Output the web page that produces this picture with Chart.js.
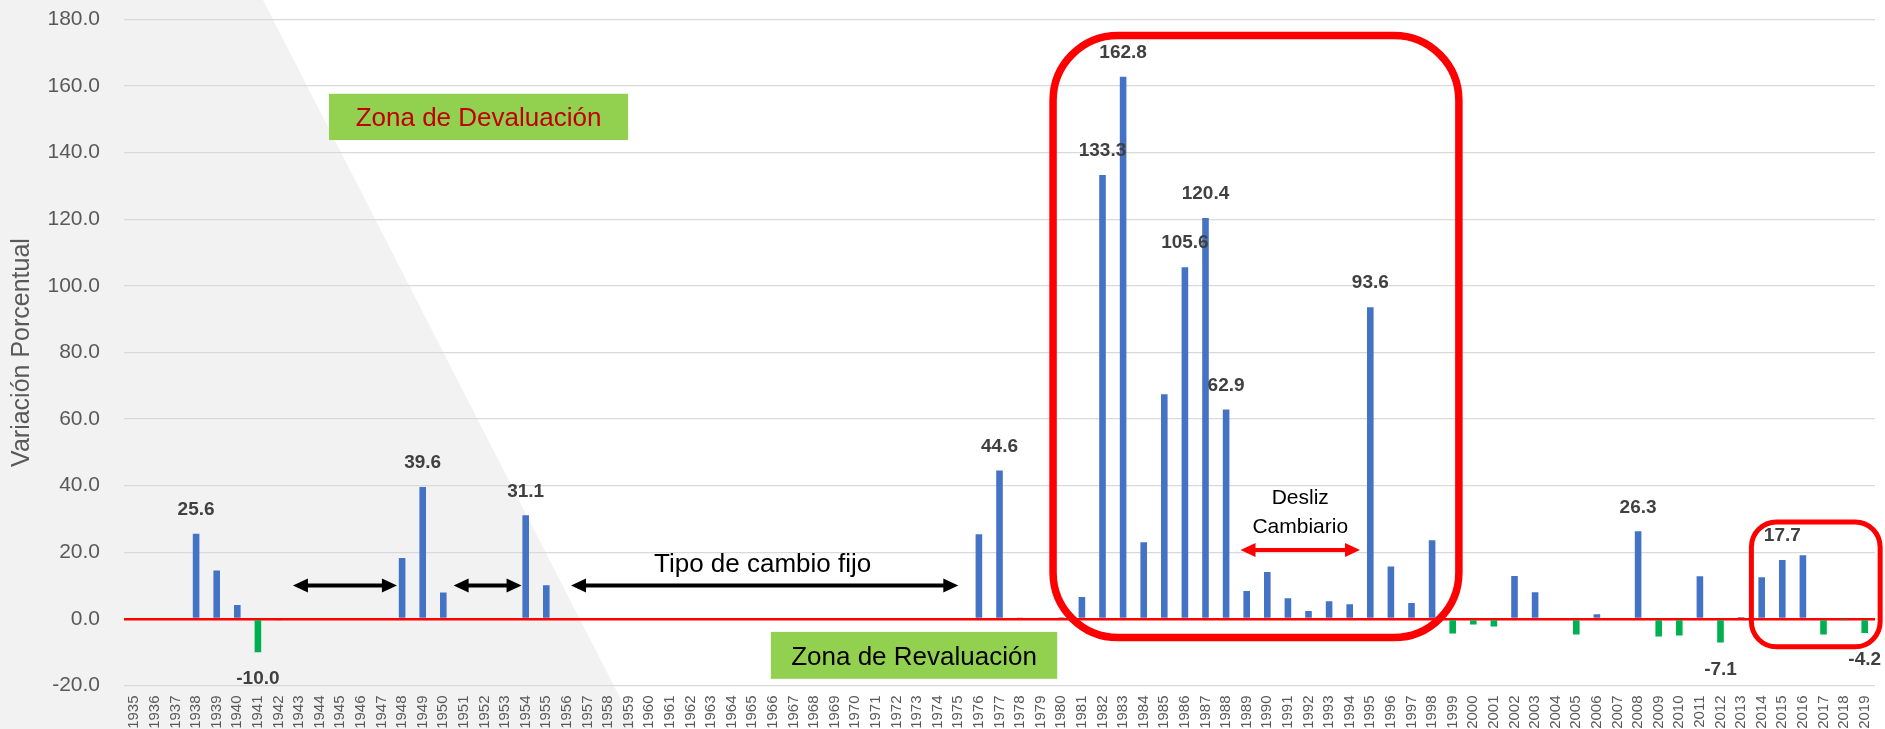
<!DOCTYPE html>
<html>
<head>
<meta charset="utf-8">
<script src="https://cdn.jsdelivr.net/npm/chart.js@4.4.0/dist/chart.umd.min.js"></script>
<style>
html, body { margin: 0; padding: 0; background: #fff; overflow: hidden; }
#wrap { width: 1885px; height: 729px; position: relative; }
</style>
</head>
<body>
<div id="wrap"><canvas id="myChart"></canvas></div>
<script>
// anios (categorias)
const years = [
    '1935','1936','1937','1938','1939','1940','1941','1942','1943','1944',
    '1945','1946','1947','1948','1949','1950','1951','1952','1953','1954',
    '1955','1956','1957','1958','1959','1960','1961','1962','1963','1964',
    '1965','1966','1967','1968','1969','1970','1971','1972','1973','1974',
    '1975','1976','1977','1978','1979','1980','1981','1982','1983','1984',
    '1985','1986','1987','1988','1989','1990','1991','1992','1993','1994',
    '1995','1996','1997','1998','1999','2000','2001','2002','2003','2004',
    '2005','2006','2007','2008','2009','2010','2011','2012','2013','2014',
    '2015','2016','2017','2018','2019'
];

// variacion porcentual por anio
const changes = [
    0, 0, 0, 25.6, 14.5, 4.2, -10.0, -0.3, 0, 0,
    0, 0, 0, 18.3, 39.6, 7.9, 0, 0, 0, 31.1,
    10.1, 0, 0, 0, 0, 0, 0, 0, 0, 0,
    0, 0, 0, 0, 0, 0, 0, 0, 0, 0,
    0, 25.4, 44.6, 0.3, 0, 0.5, 6.6, 133.3, 162.8, 23.0,
    67.5, 105.6, 120.4, 62.9, 8.4, 14.1, 6.2, 2.4, 5.3, 4.4,
    93.6, 15.7, 4.8, 23.6, -4.4, -1.7, -2.3, 12.9, 8.0, 0,
    -4.7, 1.4, 0, 26.3, -5.3, -5.0, 12.8, -7.1, 0.6, 12.5,
    17.7, 19.1, -4.7, -0.2, -4.2
];

// anios con etiqueta de valor
const labeledYears = ['1938','1941','1949','1954','1977','1982','1983','1986','1987','1988','1995','2008','2012','2015','2019'];

const yMin = -20, yMax = 180, yStep = 20;

const BLUE = '#4472C4', GREEN = '#00B050', RED = '#FF0000';
const FONT = '"Liberation Sans", Arial, sans-serif';

Chart.defaults.font.family = FONT;

const background = {
    id: 'background',
    beforeDraw(chart) {
        const { ctx, width, height } = chart;
        ctx.save();
        ctx.fillStyle = '#ffffff';
        ctx.fillRect(0, 0, width, height);
        ctx.fillStyle = '#F2F2F2';
        ctx.beginPath();
        ctx.moveTo(0, 0);
        ctx.lineTo(263, 0);
        ctx.lineTo(636, height);
        ctx.lineTo(0, height);
        ctx.closePath();
        ctx.fill();
        ctx.restore();
    }
};

const valueLabels = {
    id: 'valueLabels',
    afterDatasetsDraw(chart) {
        const { ctx } = chart;
        const meta = chart.getDatasetMeta(0);
        ctx.save();
        ctx.font = 'bold 19px ' + FONT;
        ctx.fillStyle = '#404040';
        ctx.textAlign = 'center';
        ctx.textBaseline = 'middle';
        meta.data.forEach((bar, i) => {
            if (!labeledYears.includes(years[i])) return;
            const v = changes[i];
            const y = v >= 0 ? bar.y - 24 : bar.y + 27;
            ctx.fillText(v.toFixed(1), bar.x, y);
        });
        ctx.restore();
    }
};

function arrow(ctx, x1, x2, yy, color){
    const head = 15, half = 7;
    ctx.strokeStyle = color;
    ctx.fillStyle = color;
    ctx.lineWidth = 4;
    ctx.beginPath();
    ctx.moveTo(x1 + head - 2, yy);
    ctx.lineTo(x2 - head + 2, yy);
    ctx.stroke();
    ctx.beginPath();
    ctx.moveTo(x1, yy);
    ctx.lineTo(x1 + head, yy - half);
    ctx.lineTo(x1 + head, yy + half);
    ctx.closePath();
    ctx.fill();
    ctx.beginPath();
    ctx.moveTo(x2, yy);
    ctx.lineTo(x2 - head, yy - half);
    ctx.lineTo(x2 - head, yy + half);
    ctx.closePath();
    ctx.fill();
}

function zoneBox(ctx, x1, x2, y1, y2, text, color){
    ctx.fillStyle = '#92D050';
    ctx.fillRect(x1, y1, x2 - x1, y2 - y1);
    ctx.fillStyle = color;
    ctx.font = '26px ' + FONT;
    ctx.textAlign = 'center';
    ctx.textBaseline = 'middle';
    ctx.fillText(text, (x1 + x2) / 2, (y1 + y2) / 2 + 2);
}

const notes = {
    id: 'notes',
    afterDatasetsDraw(chart) {
        const { ctx, scales: { x, y } } = chart;
        const px = (i) => x.getPixelForValue(i);
        const py = (v) => y.getPixelForValue(v);
        ctx.save();

        // periodos de tipo de cambio fijo
        arrow(ctx, px(7.7), px(12.75), py(10), '#000');
        arrow(ctx, px(15.5), px(18.8), py(10), '#000');
        arrow(ctx, px(21.2), px(40.0), py(10), '#000');
        ctx.fillStyle = '#000';
        ctx.font = '26px ' + FONT;
        ctx.textAlign = 'center';
        ctx.textBaseline = 'middle';
        ctx.fillText('Tipo de cambio fijo', px(30.5), py(16.2));

        // desliz cambiario
        arrow(ctx, px(53.7), px(59.5), py(20.7), RED);
        ctx.fillStyle = '#000';
        ctx.font = '21px ' + FONT;
        ctx.fillText('Desliz', px(56.6), py(36.3));
        ctx.fillText('Cambiario', px(56.6), py(27.6));

        // zonas
        zoneBox(ctx, px(9.45), px(23.97), py(157.7), py(143.8), 'Zona de Devaluación', '#C00000');
        zoneBox(ctx, px(30.9), px(44.8), py(-3.9), py(-18.0), 'Zona de Revaluación', '#000');

        // recuadros rojos
        ctx.strokeStyle = RED;
        ctx.lineWidth = 7.5;
        ctx.beginPath();
        ctx.roundRect(px(44.6), py(175.2), px(64.3) - px(44.6), py(-5.6) - py(175.2), 65);
        ctx.stroke();
        ctx.lineWidth = 5;
        ctx.beginPath();
        ctx.roundRect(px(78.5), py(29.1), px(84.75) - px(78.5), py(-8.4) - py(29.1), 25);
        ctx.stroke();

        ctx.restore();
    }
};

const data = {
    labels: years,
    datasets: [{
        data: changes,
        backgroundColor: changes.map(v => v >= 0 ? BLUE : GREEN),
        barPercentage: 0.32,
        categoryPercentage: 1.0,
    }]
};

const config = {
    type: 'bar',
    data: data,
    options: {
        responsive: true,
        maintainAspectRatio: false,
        animation: false,
        layout: { padding: { top: 19.5, right: 10, left: 0, bottom: 0 } },
        plugins: {
            legend: { display: false },
            tooltip: { enabled: false },
        },
        scales: {
            x: {
                grid: { display: false, drawTicks: false },
                border: { display: false },
                ticks: {
                    autoSkip: false,
                    minRotation: 90,
                    maxRotation: 90,
                    padding: 10,
                    color: '#595959',
                    font: { size: 15 },
                },
                afterFit(scale){
                    scale.height = 43.5;
                    scale.paddingLeft = 0;
                    scale.paddingRight = 0;
                },
            },
            y: {
                min: yMin,
                max: yMax,
                ticks: {
                    stepSize: yStep,
                    padding: 24,
                    color: '#595959',
                    font: { size: 21 },
                    callback: (v) => v.toFixed(1),
                },
                grid: {
                    drawTicks: false,
                    color: (c) => c.tick.value === 0 ? RED : '#D9D9D9',
                    lineWidth: (c) => c.tick.value === 0 ? 2.5 : 1.2,
                },
                border: { display: false },
                title: {
                    display: true,
                    text: 'Variación Porcentual',
                    color: '#595959',
                    font: { size: 25 },
                    padding: { top: 7, bottom: 0 },
                },
                afterFit(scale){
                    scale.width = 124;
                    scale.paddingTop = 0;
                    scale.paddingBottom = 0;
                },
            }
        }
    },
    plugins: [background, valueLabels, notes],
};

const chart = new Chart(document.getElementById('myChart'), config);
</script>
</body>
</html>
